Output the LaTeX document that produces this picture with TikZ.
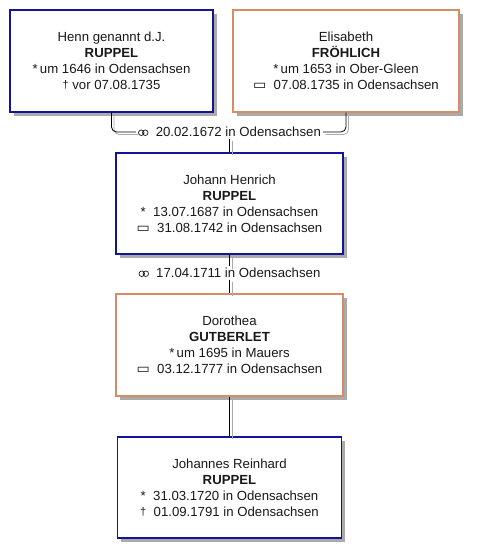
\documentclass[tikz,border=0pt]{standalone}
\usepackage{fontspec}
\setmainfont{Liberation Sans}
\newfontfamily\symfont{DejaVu Sans}
\usetikzlibrary{shadows}
\definecolor{boxblue}{RGB}{20,20,150}
\definecolor{boxorange}{RGB}{214,140,100}
\definecolor{shadowgray}{RGB}{170,170,170}
\definecolor{txt}{RGB}{25,25,25}
\newcommand{\xmarr}{\tikz[baseline={(0,-4pt)},x=1pt,y=1pt]{\draw[line width=0.7pt,txt] (2.8,0) circle[radius=2.8] (6.8,0) circle[radius=2.8];}}
\newcommand{\xburial}{{\symfont\fontsize{14}{16}\selectfont ▭}}
\newcommand{\xdeath}{\raisebox{1pt}{\fontsize{11}{16}\selectfont †}}
\newcommand{\xbirth}{\raisebox{0pt}{*}}
\begin{document}
\begin{tikzpicture}[x=1pt,y=-1pt,
  person/.style={rectangle, line width=1.3pt, fill=white, text=txt, align=center,
    font=\fontsize{13.2}{16}\selectfont, inner sep=0pt,
    general shadow={fill=shadowgray, shadow xshift=3.5pt, shadow yshift=-3.5pt}},
  man/.style={person, draw=boxblue},
  woman/.style={person, draw=boxorange},
  marrlabel/.style={text=txt, font=\fontsize{13.2}{16}\selectfont, inner xsep=2pt, inner ysep=1.5pt},
  link/.style={draw=black, line width=0.8pt},
  linkshadow/.style={draw=shadowgray, line width=0.8pt, transform canvas={xshift=2.5pt, yshift=-2.5pt}}]
\useasboundingbox (0,0) rectangle (479,558);
\fill[white] (0,0) rectangle (479,558);

\node[man, minimum width=203pt, minimum height=102pt] (b1) at (111.5,61)
  {Henn genannt d.J.\\\textbf{RUPPEL}\\\xbirth\,um 1646 in Odensachsen\\\xdeath\ vor 07.08.1735};
\node[woman, minimum width=226pt, minimum height=102pt] (b2) at (346,61)
  {Elisabeth\\\textbf{FRÖHLICH}\\\xbirth\,um 1653 in Ober-Gleen\\\xburial\ \ 07.08.1735 in Odensachsen};
\node[man, minimum width=227pt, minimum height=101pt] (b3) at (229.5,203.5)
  {Johann Henrich\\\textbf{RUPPEL}\\\xbirth\ \ 13.07.1687 in Odensachsen\\\xburial\ \ 31.08.1742 in Odensachsen};
\node[woman, minimum width=227pt, minimum height=102pt] (b4) at (229.5,345)
  {Dorothea\\\textbf{GUTBERLET}\\\xbirth\,um 1695 in Mauers\\\xburial\ \ 03.12.1777 in Odensachsen};
\node[man, minimum width=224pt, minimum height=101pt] (b5) at (229.5,487.5)
  {Johannes Reinhard\\\textbf{RUPPEL}\\\xbirth\ \ 31.03.1720 in Odensachsen\\\xdeath\ \ 01.09.1791 in Odensachsen};

\node[marrlabel] (m1) at (229.5,132) {\xmarr\ \ 20.02.1672 in Odensachsen};
\node[marrlabel] (m2) at (229.5,273) {\xmarr\ \ 17.04.1711 in Odensachsen};

% shadow lines
\draw[linkshadow, rounded corners=5pt] (b1.south) |- (m1.west);
\draw[linkshadow, rounded corners=5pt] (b2.south) |- (m1.east);
\draw[linkshadow] (m1.south) -- (b3.north);
\draw[linkshadow] (b3.south) -- (m2.north);
\draw[linkshadow] (m2.south) -- (b4.north);
\draw[linkshadow] (b4.south) -- (b5.north);
% main lines
\draw[link, rounded corners=5pt] (b1.south) |- (m1.west);
\draw[link, rounded corners=5pt] (b2.south) |- (m1.east);
\draw[link] (m1.south) -- (b3.north);
\draw[link] (b3.south) -- (m2.north);
\draw[link] (m2.south) -- (b4.north);
\draw[link] (b4.south) -- (b5.north);
\end{tikzpicture}
\end{document}
